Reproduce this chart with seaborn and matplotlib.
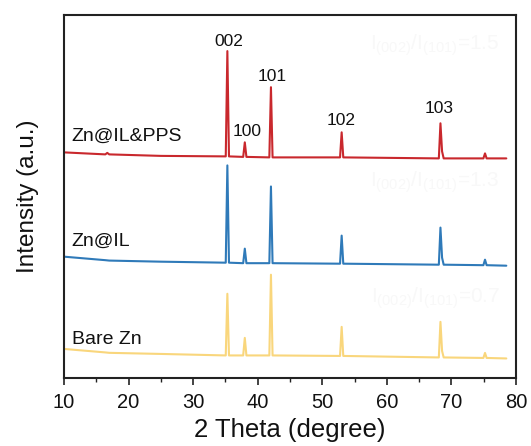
import numpy as np
import pandas as pd
import matplotlib
matplotlib.use("Agg")
import matplotlib.pyplot as plt
import seaborn as sns

# ---------------- data ----------------
theta = [10.0, 16.4, 16.7, 17.0, 25.0, 35.05, 35.3, 35.55, 37.75, 38.0, 38.25,
         41.8, 42.05, 42.3, 52.75, 53.0, 53.25, 68.05, 68.3, 68.55, 68.8,
         74.95, 75.2, 75.45, 78.5]

int_pps = [225, 223, 224.5, 223, 221.5, 221, 326, 221, 220.5, 235, 220.5,
           220, 290, 220, 220, 245, 220, 219, 254, 226, 219,
           219, 224, 219, 219]
int_il = [121, 117.5, 117.3, 117.1, 116, 115, 212, 115, 114.5, 129, 114.5,
          114.5, 191, 114.5, 114, 142, 114, 113, 150, 120, 113,
          112.5, 118, 112.5, 112]
int_bare = [29, 25.5, 25.3, 25.1, 24, 22.5, 84, 22.5, 22.5, 40, 22.5,
            22.5, 103, 22.5, 22, 51, 22, 20.5, 56, 27, 20.5,
            20, 25, 20, 19.5]

samples = ["Zn@IL&PPS", "Zn@IL", "Bare Zn"]
sample_label_y = [241, 136, 38]

peak_labels = ["002", "100", "101", "102", "103"]
peak_label_x = [35.6, 38.3, 42.2, 52.9, 68.1]
peak_label_y = [336, 246, 301, 257, 269]

ratio_texts = [r"I$_{(002)}$/I$_{(101)}$=1.5", r"I$_{(002)}$/I$_{(101)}$=1.3",
               r"I$_{(002)}$/I$_{(101)}$=0.7"]
ratio_y = [332, 195, 80]

colors = ["#c9282d", "#2f7ab9", "#f9d67c"]

# ---------------- figure ----------------
sns.set_style("ticks")
plt.rcParams["font.family"] = ["Liberation Sans", "DejaVu Sans"]
plt.rcParams["mathtext.fontset"] = "custom"
plt.rcParams["mathtext.rm"] = "Liberation Sans"
plt.rcParams["mathtext.it"] = "Liberation Sans"

fig = plt.figure(figsize=(5.31, 4.46), dpi=100)
ax = fig.add_axes([64 / 531, 68 / 446, 452 / 531, 363 / 446])

df = pd.DataFrame({
    "theta": theta * 3,
    "intensity": int_pps + int_il + int_bare,
    "sample": [samples[0]] * len(theta) + [samples[1]] * len(theta) + [samples[2]] * len(theta),
})

sns.lineplot(data=df, x="theta", y="intensity", hue="sample", palette=colors,
             sort=False, estimator=None, linewidth=1.5, legend=False, ax=ax)

for s, yv in zip(samples, sample_label_y):
    ax.text(11.2, yv, s, fontsize=14, color="#111111", ha="left", va="center")

for lab, xv, yv in zip(peak_labels, peak_label_x, peak_label_y):
    ax.text(xv, yv, lab, fontsize=12.5, color="#111111", ha="center", va="center")

for t, yv in zip(ratio_texts, ratio_y):
    ax.text(77.5, yv, t, fontsize=15, color="#f8f8f8", ha="right", va="center")

ax.set_xlim(10, 80)
ax.set_ylim(0, 362)
ax.set_xticks(range(10, 81, 10))
ax.set_xticks(range(15, 80, 10), minor=True)
ax.set_yticks([])
ax.tick_params(axis="x", which="major", length=5, width=1.2, labelsize=14.5,
               color="#222222", labelcolor="#111111", pad=6)
ax.tick_params(axis="x", which="minor", length=3, width=1.0, color="#222222")
for sp in ax.spines.values():
    sp.set_visible(True)
    sp.set_linewidth(1.5)
    sp.set_color("#222222")

ax.set_xlabel("2 Theta (degree)", fontsize=18.5, color="#111111", labelpad=4)
ax.set_ylabel("Intensity (a.u.)", fontsize=17.5, color="#111111", labelpad=18)

fig.savefig("out.png", dpi=100)
